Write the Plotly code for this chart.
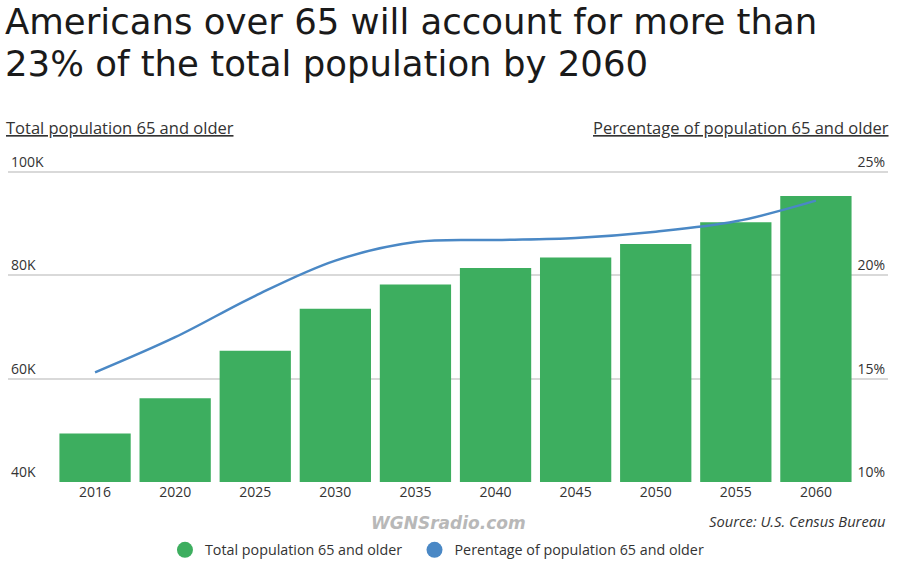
import plotly.graph_objects as go

# data
years = ["2016", "2020", "2025", "2030", "2035", "2040", "2045", "2050", "2055", "2060"]
pop_65_plus = [49.4, 56.2, 65.4, 73.5, 78.2, 81.4, 83.4, 86.0, 90.2, 95.3]   # thousands (K)
pct_65_plus = [15.3, 17.0, 19.0, 20.7, 21.6, 21.7, 21.8, 22.1, 22.6, 23.6]   # percent

left_ticks = [40, 60, 80, 100]
left_labels = ["40K", "60K", "80K", "100K"]
right_ticks = [10, 15, 20, 25]
right_labels = ["10%", "15%", "20%", "25%"]

GREEN = "#3dae5f"
BLUE = "#4a88c5"
TXT = "#333333"
FONT = "Open Sans"

fig = go.Figure()

fig.add_trace(go.Bar(x=years, y=pop_65_plus, marker_color=GREEN, marker_line_width=0,
                     showlegend=False, name="Total population 65 and older"))
fig.add_trace(go.Scatter(x=years, y=pct_65_plus, yaxis="y2", mode="lines",
                         line=dict(color=BLUE, width=2.5, shape="spline", smoothing=1.0),
                         showlegend=False, name="Perentage of population 65 and older"))

# legend entries drawn as round dots like the original (nbsp pads the gap between items)
fig.add_trace(go.Scatter(x=[None], y=[None], mode="markers", name="Total population 65 and older\u00a0\u00a0",
                         marker=dict(color=GREEN, size=20, symbol="circle")))
fig.add_trace(go.Scatter(x=[None], y=[None], mode="markers", name="Perentage of population 65 and older",
                         marker=dict(color=BLUE, size=20, symbol="circle")))

# top of the y range is padded a bit so the 100K / 25% labels (drawn above their lines) stay visible
fig.update_layout(
    width=900, height=567,
    margin=dict(l=8, r=12, t=151.4, b=85, autoexpand=False),
    paper_bgcolor="white", plot_bgcolor="white",
    font=dict(family=FONT, color=TXT, size=14),
    bargap=0.11,
    xaxis=dict(type="category", range=[-1.087, 9.9], showgrid=False, zeroline=False,
               showline=False, ticks="", tickfont=dict(size=14, color=TXT)),
    yaxis=dict(range=[40, 104], tickvals=left_ticks, ticktext=left_labels,
               ticklabelposition="inside top", showgrid=True, gridcolor="#d9d9d9", gridwidth=1.5,
               zeroline=False, showline=False, ticks="", tickfont=dict(size=14, color=TXT)),
    yaxis2=dict(range=[10, 26], tickvals=right_ticks, ticktext=right_labels, overlaying="y",
                side="right", ticklabelposition="inside top", showgrid=False, zeroline=False,
                showline=False, ticks="", tickfont=dict(size=14, color=TXT)),
    legend=dict(orientation="h", x=0.1833, xanchor="left", xref="container", y=0.03, yref="container",
                yanchor="middle", font=dict(size=14.3, color=TXT), itemsizing="trace"),
)

# two-line title
title_lines = ["Americans over 65 will account for more than", "23% of the total population by 2060"]
for i, line in enumerate(title_lines):
    fig.add_annotation(text=line, xref="paper", yref="paper", x=0, y=1, xshift=-5,
                       yshift=129.6 - i * 42, xanchor="left", yanchor="middle", showarrow=False,
                       font=dict(family="DejaVu Sans", size=35.5, color="#1a1a1a"))

fig.add_annotation(text="<u>Total population 65 and older</u>", xref="paper", yref="paper",
                   x=0, y=1.0, yshift=23.6, xanchor="left", yanchor="middle", xshift=-4,
                   showarrow=False, font=dict(size=16.5, color=TXT))
fig.add_annotation(text="<u>Percentage of population 65 and older</u>", xref="paper", yref="paper",
                   x=1, y=1.0, yshift=23.6, xanchor="right", yanchor="middle", xshift=3,
                   showarrow=False, font=dict(size=16.5, color=TXT))
fig.add_annotation(text="<i>Source: U.S. Census Bureau</i>", xref="paper", yref="paper",
                   x=1, y=0, yshift=-39, xanchor="right", yanchor="middle",
                   showarrow=False, font=dict(size=14.7, color=TXT))
fig.add_annotation(text="<b><i>WGNSradio.com</i></b>", xref="paper", yref="paper",
                   x=0.5, y=0, yshift=-41, xanchor="center", yanchor="middle",
                   showarrow=False, font=dict(family="DejaVu Sans", size=17, color="#b8b8b8"))

# page body has a default 8px margin; drop it so the figure sits at the window corner
fig.write_html("out.html", config={"displayModeBar": False},
               post_script="document.body.style.margin='0';document.body.style.overflow='hidden';")
